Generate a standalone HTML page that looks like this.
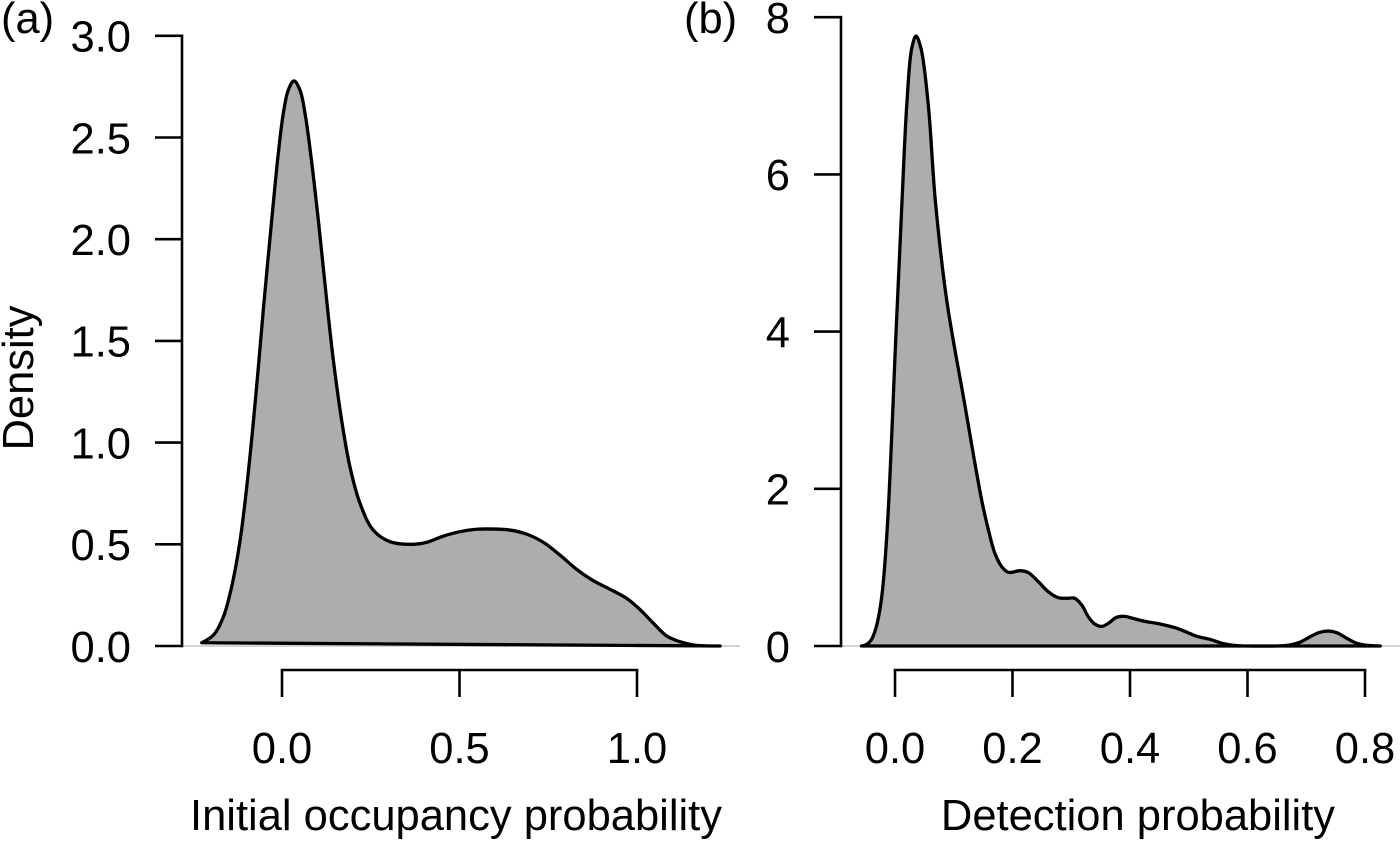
<!DOCTYPE html>
<html lang="en">
<head>
<meta charset="utf-8">
<title>Density plots</title>
<style>
html,body{margin:0;padding:0;background:#fff;}
svg{display:block;filter:blur(0.35px);}
text{font-family:"Liberation Sans",Arial,sans-serif;fill:#000;}
</style>
</head>
<body>
<svg id="chart" width="1400" height="841" viewBox="0 0 1400 841" xmlns="http://www.w3.org/2000/svg"></svg>
<script>
var occupancyX = [-0.226,-0.193,-0.165,-0.142,-0.118,-0.0995,-0.081,-0.0667,-0.0527,-0.029,-0.0104,0.0037,0.0177,0.0338,0.0507,0.0648,0.0817,0.1023,0.1287,0.1446,0.168,0.1915,0.22,0.257,0.304,0.37,0.408,0.454,0.501,0.548,0.595,0.642,0.689,0.736,0.783,0.83,0.877,0.924,0.971,1.008,1.046,1.084,1.121,1.159,1.234];
var occupancyDensity = [0.016,0.054,0.144,0.29,0.52,0.78,1.096,1.37,1.652,2.094,2.422,2.619,2.733,2.778,2.733,2.619,2.406,2.094,1.652,1.406,1.11,0.88,0.70,0.57,0.513,0.5,0.51,0.54,0.562,0.574,0.575,0.57,0.55,0.51,0.447,0.377,0.321,0.279,0.234,0.18,0.112,0.049,0.021,0.005,0];
var occupancyXTicks = [0,0.5,1];
var occupancyXLabels = ["0.0","0.5","1.0"];
var occupancyYTicks = [0,0.5,1,1.5,2,2.5,3];
var occupancyYLabels = ["0.0","0.5","1.0","1.5","2.0","2.5","3.0"];

var detectionX = [-0.057,-0.049,-0.041,-0.0345,-0.028,-0.0213,-0.0124,0.0017,0.012,0.02,0.0284,0.0358,0.0443,0.0567,0.0686,0.088,0.1174,0.1475,0.159,0.17,0.1816,0.193,0.213,0.227,0.244,0.261,0.278,0.292,0.306,0.318,0.329,0.34,0.352,0.363,0.377,0.391,0.409,0.428,0.451,0.48,0.497,0.514,0.536,0.559,0.582,0.6,0.65,0.672,0.689,0.709,0.723,0.738,0.752,0.769,0.786,0.803,0.826];
var detectionDensity = [0,0.017,0.07,0.178,0.37,0.71,1.6,3.98,5.67,6.88,7.6,7.76,7.6,6.88,5.67,4.4,3.13,1.857,1.476,1.18,1.01,0.937,0.958,0.933,0.818,0.69,0.615,0.607,0.607,0.52,0.373,0.28,0.25,0.288,0.365,0.377,0.343,0.31,0.28,0.225,0.174,0.123,0.085,0.03,0.004,0,0,0.013,0.047,0.127,0.174,0.19,0.17,0.098,0.034,0.009,0];
var detectionXTicks = [0,0.2,0.4,0.6,0.8];
var detectionXLabels = ["0.0","0.2","0.4","0.6","0.8"];
var detectionYTicks = [0,2,4,6,8];
var detectionYLabels = ["0","2","4","6","8"];

var NS = "http://www.w3.org/2000/svg";
var svg = document.getElementById("chart");
var FONT = 43.5;

function add(tag, attrs, text) {
  var el = document.createElementNS(NS, tag);
  for (var k in attrs) el.setAttribute(k, attrs[k]);
  if (text !== undefined) el.textContent = text;
  svg.appendChild(el);
  return el;
}

function chord(a, b) {
  return Math.sqrt(Math.sqrt(Math.pow(a[0] - b[0], 2) + Math.pow(a[1] - b[1], 2)));
}

function smoothPath(pts) {
  var d = "M" + pts[0][0].toFixed(2) + " " + pts[0][1].toFixed(2);
  for (var i = 0; i < pts.length - 1; i++) {
    var p0 = pts[Math.max(i - 1, 0)], p1 = pts[i], p2 = pts[i + 1], p3 = pts[Math.min(i + 2, pts.length - 1)];
    var d1 = chord(p0, p1), d2 = chord(p1, p2), d3 = chord(p2, p3);
    var c1 = p1.slice(), c2 = p2.slice();
    if (d1 > 0 && d2 > 0) {
      for (var j = 0; j < 2; j++) {
        c1[j] = (d1 * d1 * p2[j] - d2 * d2 * p0[j] + (2 * d1 * d1 + 3 * d1 * d2 + d2 * d2) * p1[j]) / (3 * d1 * (d1 + d2));
      }
    }
    if (d3 > 0 && d2 > 0) {
      for (var m = 0; m < 2; m++) {
        c2[m] = (d3 * d3 * p1[m] - d2 * d2 * p3[m] + (2 * d3 * d3 + 3 * d3 * d2 + d2 * d2) * p2[m]) / (3 * d3 * (d3 + d2));
      }
    }
    d += "C" + c1[0].toFixed(2) + " " + c1[1].toFixed(2) + " " + c2[0].toFixed(2) + " " + c2[1].toFixed(2) + " " + p2[0].toFixed(2) + " " + p2[1].toFixed(2);
  }
  return d;
}

function drawPanel(p) {
  var sx = function (v) { return p.x0 + (v - p.xMin) * p.xScale; };
  var sy = function (v) { return p.y0 - (v - p.yMin) * p.yScale; };

  var zero = add("line", {x1: p.axisX, x2: p.zeroEnd, y1: sy(0), y2: sy(0), stroke: "#d4d4d4", "stroke-width": 2});
  
  

  var pts = p.xs.map(function (x, i) { return [sx(x), sy(p.ys[i])]; });
  var d = smoothPath(pts) + "Z";
  var area = add("path", {d: d, fill: "#adadad", stroke: "#000", "stroke-width": 3.3, "stroke-linejoin": "round"});
  
  

  var yLine = add("line", {x1: p.axisX, x2: p.axisX, y1: sy(p.yTicks[p.yTicks.length - 1]), y2: sy(p.yTicks[0]), stroke: "#000", "stroke-width": 2.6, "stroke-linecap": "square"});
  
  

  p.yTicks.forEach(function (t, i) {
    var tick = add("line", {x1: p.axisX - 27, x2: p.axisX, y1: sy(t), y2: sy(t), stroke: "#000", "stroke-width": 2.6});
    
    
    var lab = add("text", {x: p.axisX - 51, y: sy(t) + 15.8, "text-anchor": "end", "font-size": FONT}, p.yLabels[i]);
    
    
  });

  var xLine = add("line", {x1: sx(p.xTicks[0]), x2: sx(p.xTicks[p.xTicks.length - 1]), y1: 670, y2: 670, stroke: "#000", "stroke-width": 2.6, "stroke-linecap": "square"});
  
  

  p.xTicks.forEach(function (t, i) {
    var tick = add("line", {x1: sx(t), x2: sx(t), y1: 670, y2: 697, stroke: "#000", "stroke-width": 2.6});
    
    
    var lab = add("text", {x: sx(t), y: 763, "text-anchor": "middle", "font-size": FONT}, p.xLabels[i]);
    
    
  });

  var title = add("text", {x: p.titleX, y: 830, "text-anchor": "middle", "font-size": FONT}, p.xTitle);
  
  

  var tag = add("text", {x: p.tagX, y: 33, "font-size": FONT}, p.tag);
  
  
}

drawPanel({id: "occupancy", xs: occupancyX, ys: occupancyDensity, xTicks: occupancyXTicks, xLabels: occupancyXLabels, yTicks: occupancyYTicks, yLabels: occupancyYLabels,
  x0: 282, xMin: 0, xScale: 355, y0: 646, yMin: 0, yScale: 203.4, axisX: 182, zeroEnd: 740, titleX: 456, tagX: 1, xTitle: "Initial occupancy probability", tag: "(a)"});

drawPanel({id: "detection", xs: detectionX, ys: detectionDensity, xTicks: detectionXTicks, xLabels: detectionXLabels, yTicks: detectionYTicks, yLabels: detectionYLabels,
  x0: 895, xMin: 0, xScale: 587.5, y0: 646, yMin: 0, yScale: 78.6, axisX: 841, zeroEnd: 1400, titleX: 1138, tagX: 684, xTitle: "Detection probability", tag: "(b)"});

var yTitle = add("text", {x: 0, y: 0, transform: "translate(33 378) rotate(-90)", "text-anchor": "middle", "font-size": FONT}, "Density");


</script>
</body>
</html>
